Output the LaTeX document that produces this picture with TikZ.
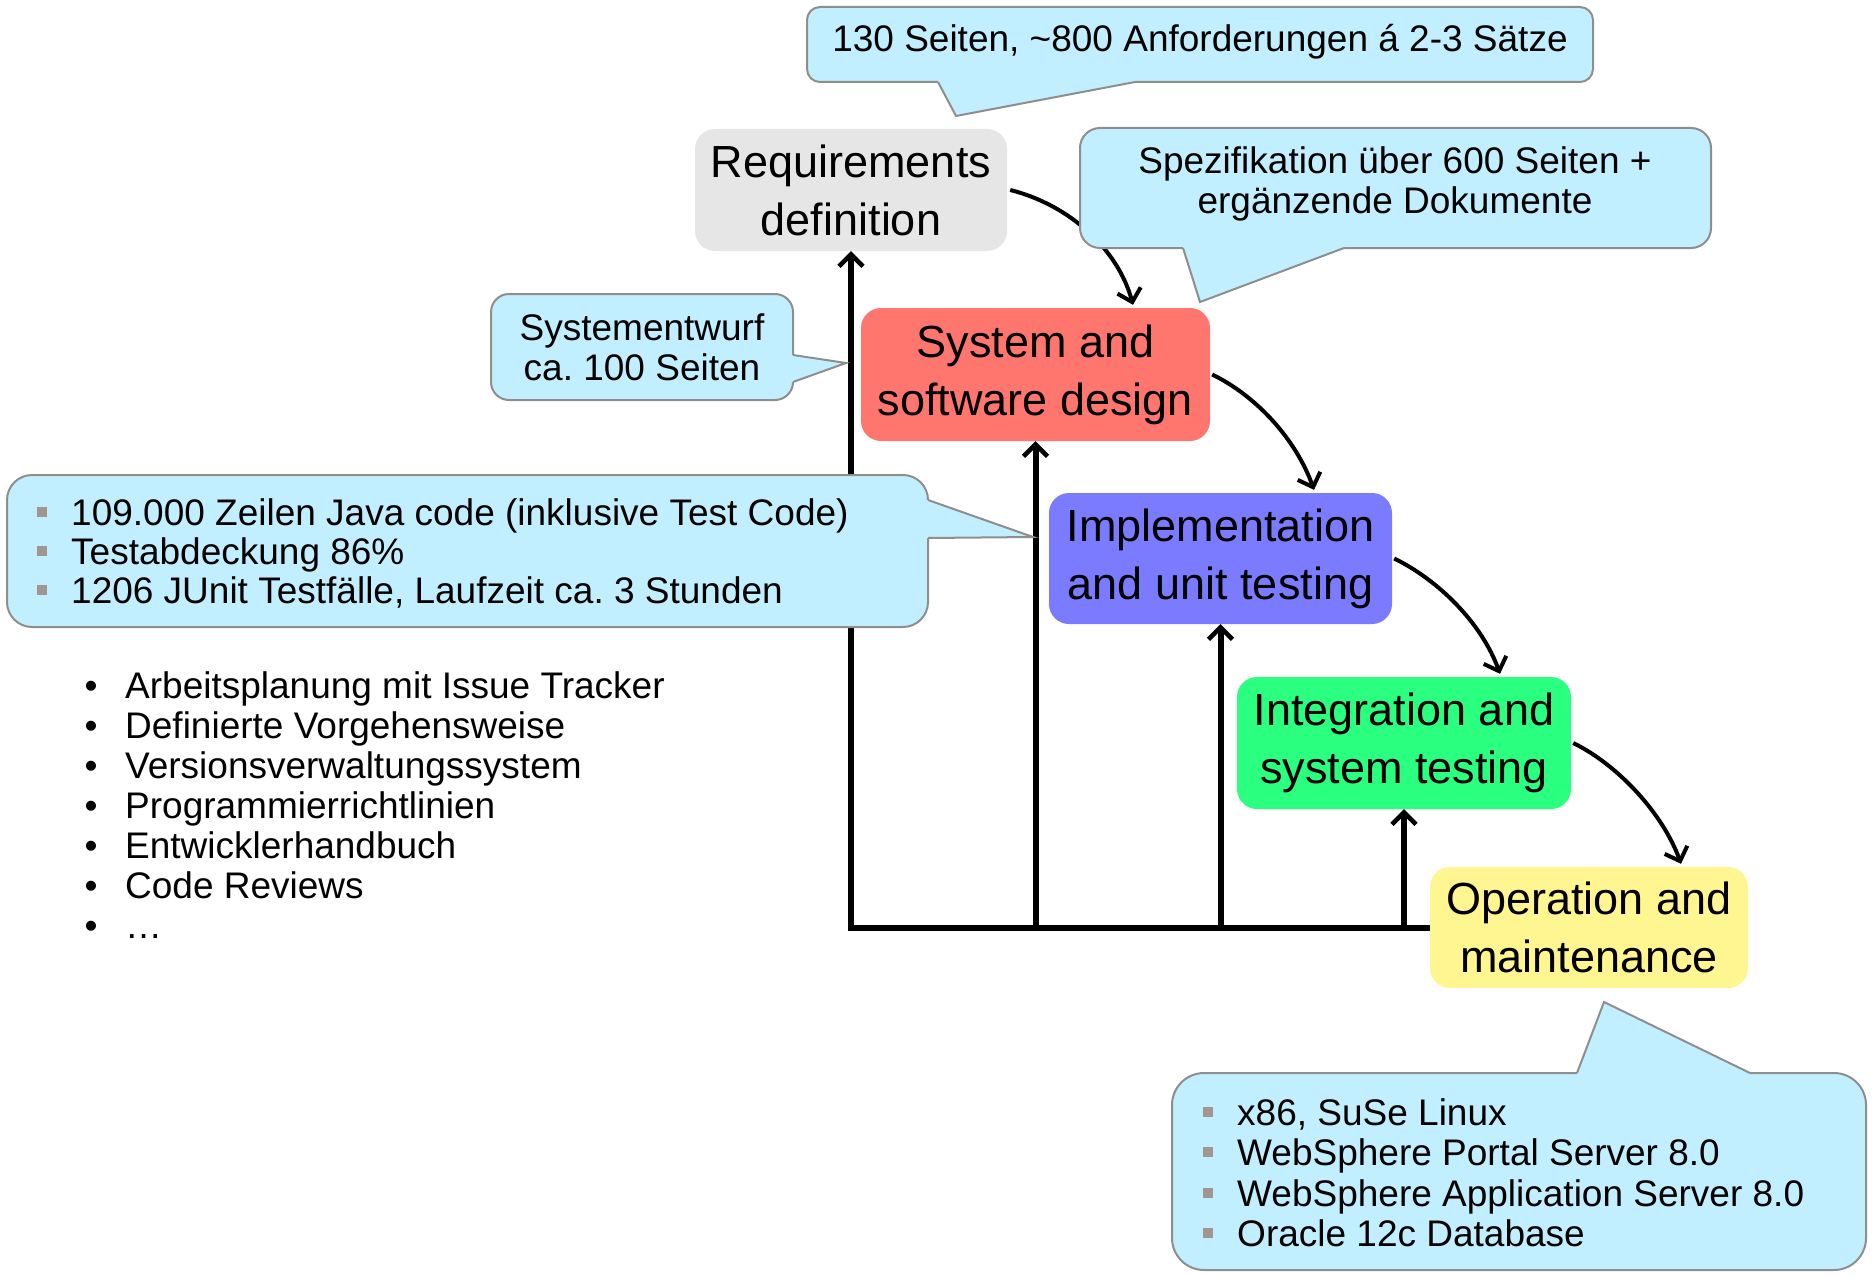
\documentclass[tikz,border=0pt]{standalone}
\usepackage{fontspec}
\setmainfont{Liberation Sans}
\usetikzlibrary{arrows.meta}
\definecolor{reqgray}{HTML}{E6E6E6}
\definecolor{sysred}{HTML}{FF766F}
\definecolor{implblue}{HTML}{7B7BFF}
\definecolor{intgreen}{HTML}{2AFF80}
\definecolor{opyellow}{HTML}{FFF591}
\definecolor{cfill}{HTML}{C1EFFF}
\definecolor{cborder}{HTML}{8E8E8E}
\definecolor{sqgray}{HTML}{A0968F}
\frenchspacing
\begin{document}
\begin{tikzpicture}[x=1pt,y=-1pt,
  phase/.style={rectangle, rounded corners=20pt, inner sep=0pt, align=center, font=\fontsize{45}{58}\selectfont},
  trunk/.style={line width=6pt, line join=miter, -{Straight Barb[length=12pt,width=24pt,line width=4.5pt]}},
  flow/.style={line width=4pt, -{Straight Barb[length=12pt,width=24pt]}},
  callout/.style={fill=cfill, draw=cborder, line width=2pt},
  tailfill/.style={fill=cfill},
  tailedge/.style={draw=cborder, line width=2pt, line join=miter},
  small/.style={font=\fontsize{37}{40}\selectfont, inner sep=0pt},
  sq/.style={fill=sqgray, minimum size=10pt, inner sep=0pt, rectangle}
]
\useasboundingbox (0,0) rectangle (1873,1276);

% phases
\node[phase, fill=reqgray, minimum width=312pt, minimum height=122pt] (Req) at (851,190) {Requirements\\definition};
\node[phase, fill=sysred, minimum width=349pt, minimum height=133pt] (Sys) at (1035.5,374.5) {System and\\software design};
\node[phase, fill=implblue, minimum width=343pt, minimum height=131pt] (Impl) at (1220.5,558.5) {Implementation\\and unit testing};
\node[phase, fill=intgreen, minimum width=334pt, minimum height=132pt] (Int) at (1404,743) {Integration and\\system testing};
\node[phase, fill=opyellow, minimum width=318pt, minimum height=121pt] (Op) at (1589,927.5) {Operation and\\maintenance};

% feedback lines
\draw[trunk] (Op.west) -| (Req.south);
\coordinate (b2) at (Sys.south |- Op.west);
\coordinate (b3) at (Impl.south |- Op.west);
\coordinate (b4) at (Int.south |- Op.west);
\draw[trunk] (b2) -- (Sys.south);
\draw[trunk] (b3) -- (Impl.south);
\draw[trunk] (b4) -- (Int.south);

% forward flow
\draw[flow] ([xshift=3pt]Req.east) .. controls +(60,15) and +(-15,-55) .. ([xshift=97.5pt,yshift=3pt]Sys.north);
\draw[flow] ([xshift=2pt]Sys.east) .. controls +(45,22) and +(-18,-50) .. ([xshift=93.5pt,yshift=3pt]Impl.north);
\draw[flow] ([xshift=2pt]Impl.east) .. controls +(45,22) and +(-18,-50) .. ([xshift=96pt,yshift=3pt]Int.north);
\draw[flow] ([xshift=2pt]Int.east) .. controls +(45,22) and +(-18,-50) .. ([xshift=92pt,yshift=3pt]Op.north);

% callout 1 (top)
\path[callout, rounded corners=13pt] (807,7) rectangle (1593,82);
\fill[tailfill] (938,78) -- (938,82) -- (956,116) -- (1135,82) -- (1135,78) -- cycle;
\draw[tailedge] (938,82) -- (956,116) -- (1135,82);
\node[small, anchor=base] (c1t) at (1200,52) {130 Seiten, \textasciitilde800 Anforderungen á 2-3 Sätze};

% callout 2 (Spezifikation)
\path[callout, rounded corners=20pt] (1080,128) rectangle (1711,248);
\fill[tailfill] (1183,244) -- (1183,248) -- (1200,302) -- (1344,248) -- (1344,244) -- cycle;
\draw[tailedge] (1183,248) -- (1200,302) -- (1344,248);
\node[small, anchor=base] (c2a) at (1395,174) {Spezifikation über 600 Seiten +};
\node[small, anchor=base] (c2b) at (1395,214) {ergänzende Dokumente};

% callout 3 (Systementwurf)
\path[callout, rounded corners=18pt] (491,294) rectangle (793,400);
\fill[tailfill] (789,355) -- (793,355) -- (846,363) -- (793,382) -- (789,382) -- cycle;
\draw[tailedge] (793,355) -- (846,363) -- (793,382);
\node[small, anchor=base] (c3a) at (642,340) {Systementwurf};
\node[small, anchor=base] (c3b) at (642,380) {ca. 100 Seiten};

% callout 4 (Java)
\path[callout, rounded corners=25pt] (7,475) rectangle (928,627);
\fill[tailfill] (924,500) -- (928,500) -- (1033,537) -- (928,538) -- (924,538) -- cycle;
\draw[tailedge] (928,500) -- (1033,537) -- (928,538);
\node[sq] (s41) at (42,512) {};
\node[sq] (s42) at (42,551) {};
\node[sq] (s43) at (42,590) {};
\node[small, anchor=base west] (c4a) at (71,525) {109.000 Zeilen Java code (inklusive Test Code)};
\node[small, anchor=base west] (c4b) at (71,564) {Testabdeckung 86\%};
\node[small, anchor=base west] (c4c) at (71,603) {1206 JUnit Testfälle, Laufzeit ca. 3 Stunden};

% callout 5 (bottom right)
\path[callout, rounded corners=32pt] (1172,1073) rectangle (1866,1270);
\fill[tailfill] (1577,1077) -- (1577,1073) -- (1604,1002) -- (1750,1073) -- (1750,1077) -- cycle;
\draw[tailedge] (1577,1073) -- (1604,1002) -- (1750,1073);
\node[sq] (s51) at (1208,1112) {};
\node[sq] (s52) at (1208,1152) {};
\node[sq] (s53) at (1208,1193) {};
\node[sq] (s54) at (1208,1233) {};
\node[small, anchor=base west] (c5a) at (1237,1125) {x86, SuSe Linux};
\node[small, anchor=base west] (c5b) at (1237,1165) {WebSphere Portal Server 8.0};
\node[small, anchor=base west] (c5c) at (1237,1206) {WebSphere Application Server 8.0};
\node[small, anchor=base west] (c5d) at (1237,1246) {Oracle 12c Database};

% plain bullet list
\foreach \t [count=\i] in {Arbeitsplanung mit Issue Tracker, Definierte Vorgehensweise, Versionsverwaltungssystem, Programmierrichtlinien, Entwicklerhandbuch, Code Reviews, …}{
  \node[small, anchor=base] (bul\i) at (91,{658+40*\i}) {•};
  \node[small, anchor=base west] (li\i) at (125,{658+40*\i}) {\t};
}
\end{tikzpicture}
\end{document}
